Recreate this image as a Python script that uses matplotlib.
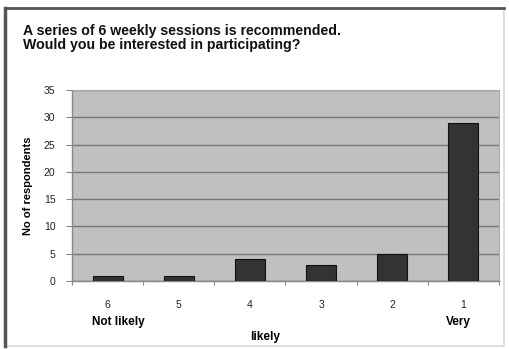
import matplotlib.pyplot as plt
import numpy as np
from matplotlib.patches import Rectangle

# Respuestas por nivel de interés
categories = ["6", "5", "4", "3", "2", "1"]
respondents = [1, 1, 4, 3, 5, 29]
y_ticks = [0, 5, 10, 15, 20, 25, 30, 35]

plt.rcParams['font.family'] = ['Liberation Sans', 'DejaVu Sans']

W, H = 509, 349
fig = plt.figure(figsize=(W / 100, H / 100), dpi=100)

# marco exterior
fig.patches.append(Rectangle((5 / W, 3 / H), 499 / W, 338 / H, transform=fig.transFigure,
                             fill=False, edgecolor='#d8d8d8', linewidth=1.2))
fig.lines.append(plt.Line2D([5 / W, 5 / W], [3 / H, 341 / H], transform=fig.transFigure,
                            color='#555555', linewidth=2.5))
fig.lines.append(plt.Line2D([5 / W, 504 / W], [341 / H, 341 / H], transform=fig.transFigure,
                            color='#555555', linewidth=2.0))

ax = fig.add_axes([72 / W, (H - 281) / H, 427 / W, 191 / H])
ax.set_facecolor('#c0c0c0')

x = np.arange(len(categories))
ax.bar(x, respondents, width=0.42, color='#333333', edgecolor='#111111', linewidth=0.8, zorder=3)

ax.set_xlim(-0.5, len(categories) - 0.5)
ax.set_ylim(0, 35)
ax.set_yticks(y_ticks)
ax.set_yticklabels([str(v) for v in y_ticks], fontsize=7.5, color='#222222')
ax.yaxis.grid(True, color='#777777', linewidth=1.0, zorder=1)

# marcas del eje x entre categorías
ax.set_xticks(np.arange(len(categories) + 1) - 0.5)
ax.set_xticklabels([])
ax.set_xticks(x, minor=True)
ax.set_xticklabels(categories, minor=True, fontsize=7.5, color='#222222')
ax.tick_params(axis='x', which='minor', length=0, pad=14)
ax.tick_params(axis='x', which='major', length=3, color='#888888')
ax.tick_params(axis='y', length=4, color='#888888', pad=8)

for side in ['top', 'right']:
    ax.spines[side].set_color('#aaaaaa')
    ax.spines[side].set_linewidth(0.8)
for side in ['left', 'bottom']:
    ax.spines[side].set_color('#888888')
    ax.spines[side].set_linewidth(1.0)

ax.set_ylabel("No of respondents", fontsize=8, fontweight='bold', labelpad=8)

fig.text(23 / W, 1 - 38 / H, "A series of 6 weekly sessions is recommended.\nWould you be interested in participating?",
         fontsize=10.2, fontweight='bold', va='center', ha='left', linespacing=1.05, color='#111111')

fig.text(118 / W, 1 - 322 / H, "Not likely", fontsize=8.5, fontweight='bold', ha='center', va='center')
fig.text(265 / W, 1 - 337 / H, "likely", fontsize=8.5, fontweight='bold', ha='center', va='center')
fig.text(458 / W, 1 - 322 / H, "Very", fontsize=8.5, fontweight='bold', ha='center', va='center')

fig.savefig("out.png", dpi=100, facecolor='white')
